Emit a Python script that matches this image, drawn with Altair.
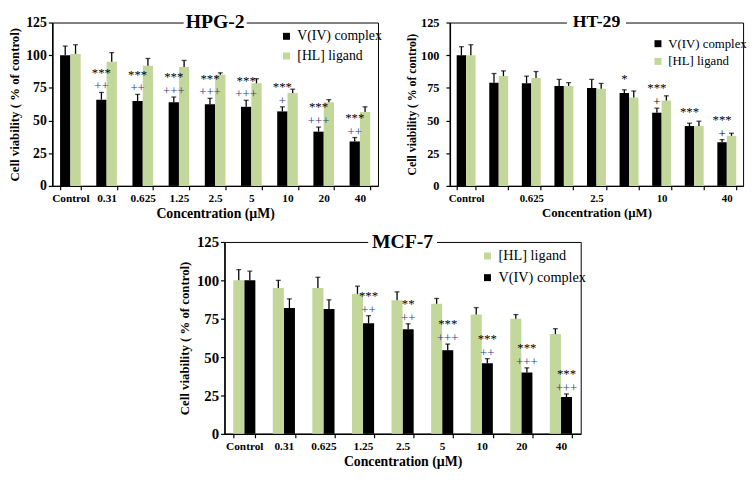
import json
import altair as alt
import pandas as pd

SERIF = "Liberation Serif"
GREEN = "#c4d79b"
BLACK = "#000000"
V = "V(IV) complex"
L = "[HL] ligand"

conc = ["Control", "0.31", "0.625", "1.25", "2.5", "5", "10", "20", "40"]

# ---- HPG-2 ----
hpg_v = [100, 66, 65, 64, 62.5, 60.5, 57, 41.5, 34]
hpg_v_err = [7, 5.5, 5, 4, 4.5, 5, 3.5, 3.5, 3]
hpg_l = [101, 95, 92, 91, 85, 78.5, 71, 64, 56.5]
hpg_l_err = [7, 7, 5.5, 5, 1.5, 3.5, 3, 2, 4]
hpg_star = ["", "***", "***", "***", "***", "***", "***", "***", "***"]
hpg_plus = ["", "++", "++", "+++", "+++", "+++", "+", "+++", "++"]

# ---- HT-29 ----
ht_v = [100, 79, 78.5, 76.5, 75, 71, 56, 45.8, 33.4]
ht_v_err = [6.5, 7, 5.5, 5, 6.5, 2.5, 3.5, 2.2, 2]
ht_l = [100, 84, 82.5, 76.5, 74.4, 67.6, 65.4, 45.8, 38.3]
ht_l_err = [8, 4, 5, 2.5, 4, 5, 3.5, 3.7, 2]
ht_star = ["", "", "", "", "", "*", "***", "***", "***"]
ht_plus = ["", "", "", "", "", "", "+", "", "+"]
ht_shown = ["Control", "0.625", "2.5", "10", "40"]

# ---- MCF-7 ----
mcf_l = [100, 95, 95, 91.2, 87, 84.7, 77.7, 75, 65]
mcf_l_err = [7, 5, 7, 5, 5.5, 3.5, 4.5, 2.7, 3.5]
mcf_v = [100, 82, 81.3, 72, 68.2, 54.5, 46, 40, 24]
mcf_v_err = [6, 6, 6, 5, 3.5, 4, 3, 3, 2]
mcf_star = ["", "", "", "***", "**", "***", "***", "***", "***"]
mcf_plus = ["", "", "", "++", "++", "+++", "++", "+++", "+++"]


def make_df(v, v_err, l, l_err, star, plus):
    rows = []
    for i, c in enumerate(conc):
        rows.append(dict(conc=c, series=V, value=v[i], err=v_err[i], star=star[i], plus=plus[i]))
        rows.append(dict(conc=c, series=L, value=l[i], err=l_err[i], star="", plus=""))
    df = pd.DataFrame(rows)
    df["top"] = df["value"] + df["err"]
    return df


def panel(df, title, order, W, H, pin, fs, legend, shown=None,
          plus_color="#1f3c88", title_fs=20, title_gap=64):
    ax_kw = dict(
        title="Concentration (µM)", labelAngle=0, tickBand="extent",
        labelFont=SERIF, labelFontWeight="bold", labelFontSize=fs["xl"],
        titleFont=SERIF, titleFontWeight="bold", titleFontSize=fs["xt"],
        tickSize=4, labelPadding=3, titlePadding=3, domainWidth=1.5, tickWidth=1.2,
    )
    if shown:
        ax_kw["labelExpr"] = "indexof(" + json.dumps(shown) + ", datum.label) >= 0 ? datum.label : ''"
    x = alt.X("conc:N", scale=alt.Scale(domain=conc, paddingInner=pin, paddingOuter=pin / 2),
              axis=alt.Axis(**ax_kw))
    xo = alt.XOffset("series:N", scale=alt.Scale(domain=order, paddingInner=0, paddingOuter=0))
    ax_y = alt.Axis(
        title="Cell viability ( % of control)", values=[0, 25, 50, 75, 100, 125],
        labelFont=SERIF, labelFontWeight="bold", labelFontSize=fs["yl"],
        titleFont=SERIF, titleFontWeight="bold", titleFontSize=fs["yt"],
        tickSize=4, labelPadding=fs["lp"], titlePadding=fs["tp"], domainWidth=1.5, tickWidth=1.2,
    )
    ysc = alt.Scale(domain=[0, 125], nice=False)

    def Y(f):
        return alt.Y(f, scale=ysc, axis=ax_y)

    colors = [BLACK if s == V else GREEN for s in order]
    base = alt.Chart(df)
    bars = base.mark_bar().encode(
        x=x, xOffset=xo, y=Y("value:Q"),
        color=alt.Color("series:N", scale=alt.Scale(domain=order, range=colors),
                        legend=alt.Legend(title=None, orient="none", legendX=legend["x"],
                                          legendY=legend["y"], symbolType="square",
                                          symbolSize=50, symbolStrokeWidth=0,
                                          labelFont=SERIF, labelFontSize=legend["fs"],
                                          labelColor="black", rowPadding=legend["rp"],
                                          labelOffset=4, padding=0)),
    )
    rules = base.mark_rule(color="black", strokeWidth=1.3).encode(
        x=x, xOffset=xo, y=Y("value:Q"), y2="top:Q")
    caps = base.mark_tick(color="black", thickness=1.3, size=5).encode(
        x=x, xOffset=xo, y=Y("top:Q"))
    plus = base.mark_text(font=SERIF, fontSize=13, color=plus_color, baseline="middle", dy=-6).encode(
        x=x, xOffset=xo, y=Y("top:Q"), text="plus:N").transform_filter("datum.plus != ''")
    star1 = base.mark_text(font=SERIF, fontSize=13, color="black", baseline="middle", dy=-20).encode(
        x=x, xOffset=xo, y=Y("top:Q"), text="star:N").transform_filter(
        "datum.star != '' && datum.plus != ''")
    star2 = base.mark_text(font=SERIF, fontSize=13, color="black", baseline="middle", dy=-11).encode(
        x=x, xOffset=xo, y=Y("top:Q"), text="star:N").transform_filter(
        "datum.star != '' && datum.plus == ''")
    tdf = pd.DataFrame({"t": [title]})
    gap = alt.Chart(tdf).mark_rect(color="white").encode(
        x=alt.value(W / 2 - title_gap / 2), x2=alt.value(W / 2 + title_gap / 2),
        y=alt.value(-1.5), y2=alt.value(1.5))
    ttl = alt.Chart(tdf).mark_text(font=SERIF, fontSize=title_fs, fontWeight="bold",
                                   baseline="middle", color="black").encode(
        text="t:N", x=alt.value(W / 2), y=alt.value(0))
    return alt.layer(bars, rules, caps, plus, star1, star2, gap, ttl).properties(width=W, height=H)


p1 = panel(make_df(hpg_v, hpg_v_err, hpg_l, hpg_l_err, hpg_star, hpg_plus), "HPG-2", [V, L],
           331, 166, 0.43, dict(xl=11.5, xt=14, yl=14, yt=13, lp=2, tp=4),
           dict(x=231, y=7, fs=14, rp=6), title_gap=64)
p2 = panel(make_df(ht_v, ht_v_err, ht_l, ht_l_err, ht_star, ht_plus), "HT-29", [V, L],
           298, 166, 0.42, dict(xl=11, xt=13, yl=12.5, yt=12, lp=7, tp=2),
           dict(x=205, y=15, fs=13, rp=4), shown=ht_shown, plus_color="black",
           title_fs=18, title_gap=60)
p3 = panel(make_df(mcf_v, mcf_v_err, mcf_l, mcf_l_err, mcf_star, mcf_plus), "MCF-7", [L, V],
           362, 195, 0.44, dict(xl=11.5, xt=14, yl=15, yt=13, lp=2, tp=5),
           dict(x=260, y=7, fs=14.5, rp=7), title_gap=70)

spacer = alt.Chart(pd.DataFrame({"a": [0]})).mark_point(opacity=0).properties(
    width=127, height=10, view=alt.ViewBackground(stroke="transparent"))

row1 = alt.hconcat(p1, p2, spacing=22).resolve_scale(color="independent", xOffset="independent")
row2 = alt.hconcat(spacer, p3, spacing=0).resolve_scale(color="independent", xOffset="independent")

chart = (
    alt.vconcat(row1, row2, spacing=10)
    .resolve_scale(color="independent", xOffset="independent")
    .properties(padding=0)
    .configure_view(stroke="black", strokeWidth=1)
    .configure_axis(domainColor="black", tickColor="black", labelColor="black",
                    titleColor="black", grid=False)
)

chart.save("out.html", embed_options={"renderer": "svg", "actions": False})
